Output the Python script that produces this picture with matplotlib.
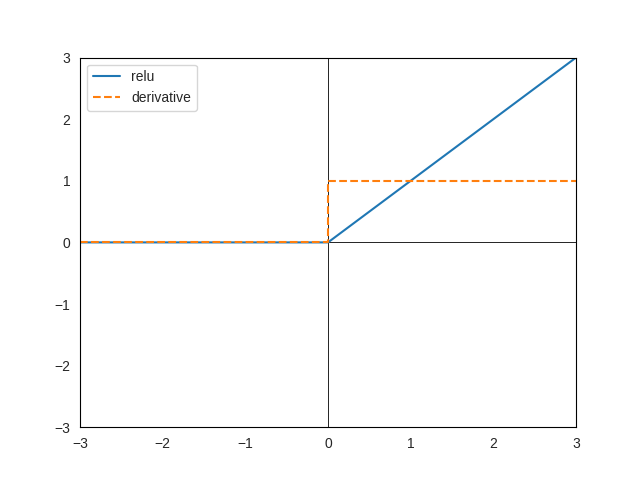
import matplotlib
matplotlib.use("Agg")
import matplotlib.pyplot as plt
import seaborn as sns

sns.set_style("white")
plt.rcParams['font.family'] = ['Liberation Sans', 'DejaVu Sans']

# values
relu_x = [-3, 0, 3]
relu_y = [0, 0, 3]
deriv_x = [-3, 0, 0, 3]
deriv_y = [0, 0, 1, 1]

fig, ax = plt.subplots(figsize=(6.4, 4.8), dpi=100)
ax.axhline(0, color='black', linewidth=0.6)
ax.axvline(0, color='black', linewidth=0.6)
ax.plot(relu_x, relu_y, label='relu')
ax.plot(deriv_x, deriv_y, '--', label='derivative')
ax.set_xlim(-3, 3)
ax.set_ylim(-3, 3)
for s in ax.spines.values():
    s.set_edgecolor('black')
    s.set_linewidth(0.8)
ax.legend(loc='upper left')
fig.savefig('out.png')
